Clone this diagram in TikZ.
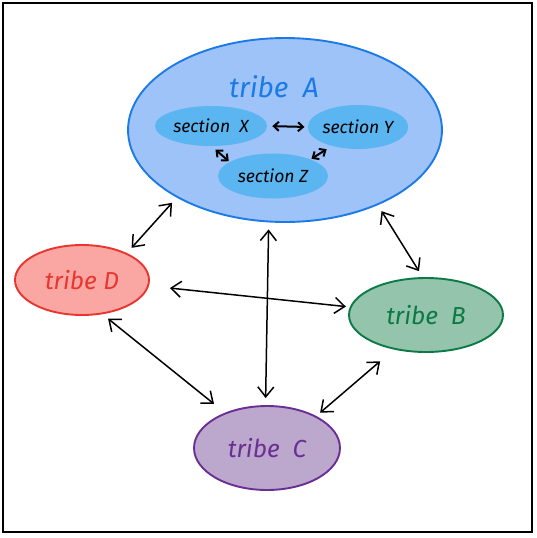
\documentclass[tikz,border=0pt]{standalone}
\usepackage{fontspec}
\setmainfont{Fira Sans}
\usetikzlibrary{arrows.meta,shapes.geometric}
\definecolor{tribeblue}{HTML}{9DC3F8}
\definecolor{tribebluedraw}{HTML}{1C7AE6}
\definecolor{sectionblue}{HTML}{5AB5F0}
\definecolor{tribered}{HTML}{FAA7A3}
\definecolor{tribereddraw}{HTML}{E8362F}
\definecolor{tribegreen}{HTML}{95C4AD}
\definecolor{tribegreendraw}{HTML}{0B7A45}
\definecolor{tribepurple}{HTML}{BCA7CD}
\definecolor{tribepurpledraw}{HTML}{6A2E94}

\begin{document}
\begin{tikzpicture}[
        x=0.02cm,y=-0.02cm,
        tribe/.style={ellipse,inner sep=0pt,line width=0.38mm,
          font=\fontsize{14}{16}\selectfont\itshape},
        section/.style={ellipse,inner sep=0pt,fill=sectionblue,
          font=\fontsize{10}{12}\selectfont\itshape},
        link/.style={{Straight Barb[length=2mm,width=3.2mm]}-{Straight Barb[length=2mm,width=3.2mm]},
          line width=0.3mm,shorten <=0.14cm,shorten >=0.14cm},
        sublink/.style={{Straight Barb[length=1mm,width=1.8mm]}-{Straight Barb[length=1mm,width=1.8mm]},
          line width=0.4mm,shorten <=0.1cm,shorten >=0.06cm}
      ]
        \useasboundingbox (0,0) rectangle (537,538);
        \draw[line width=0.3mm] (3,3) rectangle (532,532);

        \node[tribe,fill=tribeblue,draw=tribebluedraw,minimum width=6.28cm,minimum height=3.68cm]
          (tribeA) at (285,130) {};
        \node[font=\fontsize{16}{18}\selectfont\itshape,text=tribebluedraw]
          (tribeAlabel) at (274,87) {tribe~~A};
        \node[section,minimum width=2.24cm,minimum height=0.8cm]
          (sectionX) at (211,126) {section~~X};
        \node[section,minimum width=1.8cm,minimum height=0.88cm]
          (sectionY) at (358,127) {section Y};
        \node[section,minimum width=2.2cm,minimum height=0.9cm]
          (sectionZ) at (273,176) {section Z};

        \node[tribe,fill=tribered,draw=tribereddraw,text=tribereddraw,
          minimum width=2.68cm,minimum height=1.4cm] (tribeD) at (82,280) {tribe D};
        \node[tribe,fill=tribegreen,draw=tribegreendraw,text=tribegreendraw,
          minimum width=3.08cm,minimum height=1.48cm] (tribeB) at (426,315) {tribe~~B};
        \node[tribe,fill=tribepurple,draw=tribepurpledraw,text=tribepurpledraw,
          minimum width=2.92cm,minimum height=1.68cm] (tribeC) at (267,448) {tribe~~C};

        \draw[sublink] (sectionX.east) -- (sectionY.west);
        \draw[sublink,shorten <=0.1cm,shorten >=0.02cm] (sectionX.272) -- (sectionZ.162);
        \draw[sublink,shorten <=0.02cm,shorten >=0.12cm] (sectionZ.24) -- (sectionY.216);

        \draw[link] (tribeA.212) -- (tribeD.31);
        \draw[link] (tribeA.321) -- (tribeB.95);
        \draw[link] (tribeA.260) -- (tribeC.92);
        \draw[link,shorten <=0.42cm,shorten >=0.08cm] (tribeD.355) -- (tribeB.174);
        \draw[link,shorten >=0.28cm] (tribeD.301) -- (tribeC.140);
        \draw[link,shorten <=0.1cm,shorten >=0.36cm] (tribeC.33) -- (tribeB.227);
      \end{tikzpicture}
\end{document}
